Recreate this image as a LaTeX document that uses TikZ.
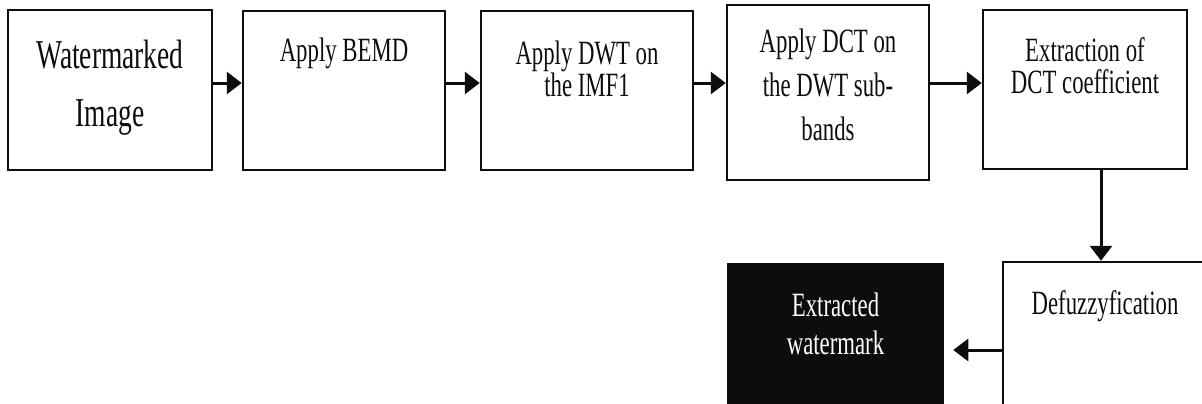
\documentclass[tikz,border=0pt]{standalone}
\usepackage{fontspec}
\usepackage{tikz}
\usetikzlibrary{arrows.meta}
\usetikzlibrary{positioning}
\newfontfamily\narrowserif[FakeStretch=0.67]{Liberation Serif}
\definecolor{mblack}{rgb}{0.05, 0.05, 0.05}

\begin{document}
\begin{tikzpicture}[x=1pt, y=-1pt,
    stage/.style={draw=mblack, line width=2.5pt, inner sep=0pt, minimum width=204pt, minimum height=159pt},
    caption/.style={inner sep=0pt, align=center, text=mblack, font=\narrowserif\fontsize{34}{32}\selectfont},
    flow/.style={draw=mblack, line width=3pt, -{Triangle[length=15pt, width=22pt]}}]
  \useasboundingbox (0, 0) rectangle (1202, 404);

  \node [stage, minimum height=160pt] (image) at (110, 90) {};
  \node [stage, minimum width=202pt] (bemd) at (344, 90.5) {};
  \node [stage, minimum width=212pt] (dwt) at (587, 90.5) {};
  \node [stage, minimum width=202pt, minimum height=175pt] (dct) at (828, 92.5) {};
  \node [stage] (coef) at (1085, 89.5) {};
  \node [stage, minimum height=148pt] (defuzz) at (1105, 336) {};
  \node [stage, fill=mblack, minimum width=215pt, minimum height=146pt] (mark) at (835.5, 337) {};

  \node [caption, font=\narrowserif\fontsize{41}{58}\selectfont, below=31pt of image.north] (image text) {Watermarked\\Image};
  \node [caption, below=27.5pt of bemd.north] (bemd text) {Apply BEMD};
  \node [caption, below=30.5pt of dwt.north] (dwt text) {Apply DWT on\\the IMF1};
  \node [caption, font=\narrowserif\fontsize{34}{44}\selectfont, below=24.5pt of dct.north] (dct text) {Apply DCT on\\the DWT sub-\\bands};
  \node [caption, below=28.5pt of coef.north] (coef text) {Extraction of\\DCT coefficient};
  \node [caption, below=29.5pt of defuzz.north] (defuzz text) {Defuzzyfication};
  \node [caption, text=white, font=\narrowserif\fontsize{34}{38}\selectfont, below=29.5pt of mark.north] (mark text) {Extracted\\watermark};

  \coordinate (row) at (0, 83);
  \coordinate (drop) at (1101, 0);
  \coordinate (back) at (0, 350);

  \draw [flow] (image.east |- row) -- (bemd.west |- row);
  \draw [flow] (bemd.east |- row) -- (dwt.west |- row);
  \draw [flow] (dwt.east |- row) -- (dct.west |- row);
  \draw [flow] (dct.east |- row) -- (coef.west |- row);
  \draw [flow] (coef.south -| drop) -- (defuzz.north -| drop);
  \draw [flow, shorten >=9pt] (defuzz.west |- back) -- (mark.east |- back);
\end{tikzpicture}
\end{document}
